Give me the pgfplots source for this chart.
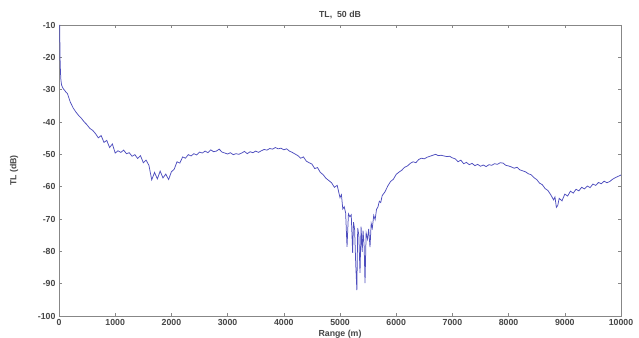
\documentclass[border=0pt]{standalone}
\usepackage{fontspec}
\setmainfont{Liberation Sans}
\usepackage{pgfplots}
\pgfplotsset{compat=1.18}
\definecolor{tlblue}{RGB}{78,78,190}
\definecolor{axgray}{RGB}{135,135,135}
\definecolor{txtgray}{RGB}{70,70,70}

\begin{document}
\begin{tikzpicture}
\begin{axis}[
  name=ax,
  scale only axis,
  width=562bp, height=291bp,
  xmin=0, xmax=10000, ymin=-100, ymax=-10,
  scaled x ticks=false,
  xtick={0,1000,2000,3000,4000,5000,6000,7000,8000,9000,10000},
  xticklabels={0,1000,2000,3000,4000,5000,6000,7000,8000,9000,10000},
  ytick={-100,-90,-80,-70,-60,-50,-40,-30,-20,-10},
  yticklabels={-100,-90,-80,-70,-60,-50,-40,-30,-20,-10},
  tick align=inside,
  major tick length=3bp,
  axis line style={axgray, line width=0.9pt},
  tick style={axgray, line width=0.6pt},
  ticklabel style={font=\fontsize{8.8}{10}\selectfont\bfseries, text=txtgray},
  title={TL,~ 50 dB},
  title style={at={(axis description cs:0.5,1)}, anchor=base, yshift=2bp,
               font=\fontsize{8.8}{10}\selectfont\bfseries, text=txtgray},
  xlabel={Range (m)},
  xlabel style={at={(axis description cs:0.5,0)}, anchor=center, yshift=-18bp,
                font=\fontsize{8.8}{10}\selectfont\bfseries, text=txtgray},
  ylabel={TL (dB)},
  ylabel style={at={(axis description cs:0,0.5)}, anchor=center, yshift=45bp,
                font=\fontsize{8.8}{10}\selectfont\bfseries, text=txtgray},
]
% transmission loss versus range
\addplot[tlblue, line width=0.75bp, mark=none] coordinates {
(12,-10) (16,-16) (20,-21) (26,-24.5) (34,-27) (45,-28.5) (60,-29.2) (80,-29.8) (100,-30.2)
(125,-30.8) (150,-31.2) (175,-32.5) (200,-33.8) (250,-35.6) (300,-36.9) (350,-38.0)
(400,-38.9) (450,-40.0) (500,-40.9) (550,-42.0) (600,-42.6) (650,-43.6) (700,-44.9)
(750,-44.2) (800,-46.3) (850,-45.7) (900,-47.9) (950,-46.8) (1000,-49.6) (1050,-48.9)
(1100,-49.4) (1150,-48.7) (1200,-49.8) (1250,-49.5) (1300,-50.6) (1350,-50.1)
(1400,-51.3) (1450,-50.4) (1500,-52.6) (1550,-51.8) (1600,-53.4) (1650,-57.9)
(1700,-55.6) (1750,-57.6) (1800,-55.2) (1850,-57.3) (1900,-56.1) (1950,-57.8)
(2000,-55.4) (2050,-54.6) (2100,-52.3) (2150,-52.7) (2200,-50.8) (2250,-51.2)
(2300,-50.1) (2350,-50.5) (2400,-49.8) (2450,-50.2) (2500,-49.3) (2550,-49.6)
(2600,-49.0) (2650,-49.5) (2700,-48.6) (2750,-49.2) (2800,-49.0) (2850,-48.4)
(2900,-49.3) (2950,-49.6) (3000,-49.9) (3050,-49.5) (3100,-50.1) (3150,-49.8)
(3200,-50.0) (3250,-49.6) (3300,-49.1) (3350,-49.8) (3400,-49.2) (3450,-49.5)
(3500,-49.0) (3550,-49.4) (3600,-48.9) (3650,-48.5) (3700,-48.7) (3750,-48.2)
(3800,-48.4) (3850,-47.9) (3900,-48.3) (3950,-48.1) (4000,-48.6) (4050,-48.3)
(4100,-49.0) (4150,-49.4) (4200,-49.9) (4250,-50.4) (4300,-51.2) (4350,-50.8)
(4400,-52.1) (4450,-52.6) (4500,-53.0) (4550,-54.4) (4600,-54.1) (4650,-55.6)
(4700,-56.3) (4750,-57.4) (4800,-58.1) (4850,-58.8) (4900,-60.2) (4950,-59.6)
(5000,-63.4) (5025,-62.5) (5050,-66.9) (5075,-66.2) (5100,-68.1) (5125,-78.6)
(5150,-68.4) (5175,-69.3) (5200,-68.7) (5225,-80.5) (5240,-71.0) (5260,-73.2)
(5280,-84.0) (5300,-92.0) (5315,-72.8) (5335,-75.0) (5356,-86.7) (5375,-72.4)
(5395,-80.2) (5410,-73.6) (5430,-78.5) (5445,-89.8) (5465,-74.3) (5490,-76.2)
(5510,-73.1) (5534,-78.7) (5555,-71.4) (5575,-72.8) (5600,-68.9) (5625,-70.2)
(5650,-67.0) (5675,-66.3) (5700,-64.5) (5725,-64.9) (5750,-62.8) (5800,-61.6)
(5850,-59.8) (5900,-58.4) (5950,-57.7) (6000,-56.2) (6050,-55.5) (6100,-54.9)
(6150,-54.0) (6200,-53.6) (6250,-52.8) (6300,-52.3) (6350,-52.6) (6400,-51.6)
(6450,-51.2) (6500,-51.4) (6550,-50.9) (6600,-50.6) (6650,-50.3) (6700,-50.0)
(6750,-50.4) (6800,-50.3) (6850,-50.5) (6900,-50.7) (6950,-50.6) (7000,-51.1)
(7050,-51.4) (7100,-52.3) (7150,-51.8) (7200,-52.9) (7250,-52.5) (7300,-53.2)
(7350,-52.8) (7400,-53.5) (7450,-53.1) (7500,-53.7) (7550,-53.3) (7600,-53.8)
(7650,-53.2) (7700,-53.4) (7750,-52.9) (7800,-53.1) (7850,-52.6) (7900,-52.7)
(7950,-53.4) (8000,-53.6) (8050,-53.9) (8100,-54.3) (8150,-54.0) (8200,-54.8)
(8250,-55.1) (8300,-55.4) (8350,-56.0) (8400,-56.3) (8450,-57.2) (8500,-57.8)
(8550,-58.9) (8600,-59.4) (8650,-60.6) (8700,-61.2) (8750,-62.5) (8800,-64.1)
(8825,-63.2) (8850,-66.4) (8875,-65.8) (8900,-63.6) (8950,-64.4) (9000,-62.3)
(9050,-62.9) (9100,-61.4) (9150,-62.0) (9200,-60.8) (9250,-61.3) (9300,-60.2)
(9350,-60.7) (9400,-59.8) (9450,-60.3) (9500,-59.2) (9550,-59.6) (9600,-58.7)
(9650,-59.1) (9700,-58.3) (9750,-58.8) (9800,-58.4) (9850,-57.7) (9900,-57.2)
(9950,-56.8) (10000,-56.4)
};
\end{axis}
\pgfresetboundingbox
\path[use as bounding box] ([shift={(-59bp,-22bp)}]ax.south west)
  rectangle ([shift={(18bp,25bp)}]ax.north east);
\end{tikzpicture}
\end{document}
